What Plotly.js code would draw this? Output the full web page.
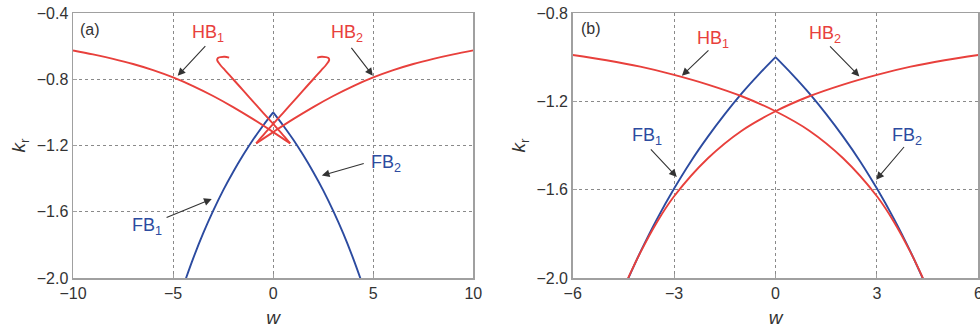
<!DOCTYPE html>
<html>
<head>
<meta charset="utf-8">
<script src="https://cdn.plot.ly/plotly-3.0.1.min.js"></script>
<style>html,body{margin:0;padding:0;background:#fff;}#chart{width:980px;height:329px;}</style>
</head>
<body>
<div id="chart"></div>
<script>
// ---------- Panel (a) data ----------
const fbA1W = [0, -0.5, -1, -1.5, -2, -2.5, -3, -3.5, -4, -4.4];
const fbA1K = [-1.0, -1.079, -1.164, -1.258, -1.36, -1.471, -1.595, -1.731, -1.883, -2.017];
const fbA2W = [0, 0.5, 1, 1.5, 2, 2.5, 3, 3.5, 4, 4.4];
const fbA2K = [-1.0, -1.079, -1.164, -1.258, -1.36, -1.471, -1.595, -1.731, -1.883, -2.017];

const hbA1MainW = [-10, -9, -8, -7, -6, -5, -4, -3, -2, -1, 0, 0.85];
const hbA1MainK = [-0.626, -0.650, -0.677, -0.708, -0.745, -0.789, -0.841, -0.901, -0.968, -1.041, -1.119, -1.187];
const hbA1HookW = [0.85, 0.4, 0, -0.5, -1, -1.5, -2, -2.4, -2.6, -2.74, -2.8, -2.76, -2.62, -2.42, -2.2];
const hbA1HookK = [-1.187, -1.124, -1.07, -1.003, -0.935, -0.867, -0.8, -0.746, -0.72, -0.698, -0.683, -0.672, -0.666, -0.664, -0.669];

const hbA2MainW = [10, 9, 8, 7, 6, 5, 4, 3, 2, 1, 0, -0.85];
const hbA2MainK = [-0.626, -0.650, -0.677, -0.708, -0.745, -0.789, -0.841, -0.901, -0.968, -1.041, -1.119, -1.187];
const hbA2HookW = [-0.85, -0.4, 0, 0.5, 1, 1.5, 2, 2.4, 2.6, 2.74, 2.8, 2.76, 2.62, 2.42, 2.2];
const hbA2HookK = [-1.187, -1.124, -1.07, -1.003, -0.935, -0.867, -0.8, -0.746, -0.72, -0.698, -0.683, -0.672, -0.666, -0.664, -0.669];

// ---------- Panel (b) data ----------
const fbB1W = [0, -0.5, -1, -1.5, -2, -2.5, -3, -3.5, -4, -4.4];
const fbB1K = [-1.0, -1.079, -1.164, -1.258, -1.36, -1.471, -1.595, -1.731, -1.883, -2.017];
const fbB2W = [0, 0.5, 1, 1.5, 2, 2.5, 3, 3.5, 4, 4.4];
const fbB2K = [-1.0, -1.079, -1.164, -1.258, -1.36, -1.471, -1.595, -1.731, -1.883, -2.017];

const hbB1W = [-6, -5, -4, -3, -2, -1, 0, 1, 2, 3, 3.5, 4, 4.38];
const hbB1K = [-0.99, -1.014, -1.043, -1.08, -1.124, -1.177, -1.245, -1.333, -1.458, -1.63, -1.745, -1.885, -2.007];
const hbB2W = [6, 5, 4, 3, 2, 1, 0, -1, -2, -3, -3.5, -4, -4.38];
const hbB2K = [-0.99, -1.014, -1.043, -1.08, -1.124, -1.177, -1.245, -1.333, -1.458, -1.63, -1.745, -1.885, -2.007];

// ---------- tick labels ----------
const xTicksA = [-10, -5, 0, 5, 10];
const yTicksA = [-2.0, -1.6, -1.2, -0.8, -0.4];
const xTicksB = [-6, -3, 0, 3, 6];
const yTicksB = [-2.0, -1.6, -1.2, -0.8];

const RED = '#e8403c';
const BLUE = '#2c4ba0';

function line(x, y, color, xa, ya) {
  return {x: x, y: y, type: 'scatter', mode: 'lines', xaxis: xa, yaxis: ya,
    line: {color: color, width: 1.9, shape: 'spline', smoothing: 1}, hoverinfo: 'skip', showlegend: false};
}

const data = [
  line(fbA1W, fbA1K, BLUE, 'x', 'y'),
  line(fbA2W, fbA2K, BLUE, 'x', 'y'),
  line(hbA1MainW, hbA1MainK, RED, 'x', 'y'),
  line(hbA1HookW, hbA1HookK, RED, 'x', 'y'),
  line(hbA2MainW, hbA2MainK, RED, 'x', 'y'),
  line(hbA2HookW, hbA2HookK, RED, 'x', 'y'),
  line(fbB1W, fbB1K, BLUE, 'x2', 'y2'),
  line(fbB2W, fbB2K, BLUE, 'x2', 'y2'),
  line(hbB1W, hbB1K, RED, 'x2', 'y2'),
  line(hbB2W, hbB2K, RED, 'x2', 'y2')
];

const FONT = 'Liberation Sans, Arial, Helvetica, sans-serif';
const tickFont = {family: FONT, size: 16, color: '#333'};

function xaxis(domain, range, ticks, anchor) {
  return {domain: domain, range: range, tickvals: ticks, anchor: anchor,
    showgrid: true, gridcolor: '#8a8a8a', griddash: 'dot', gridwidth: 1,
    zeroline: false, showline: true, linecolor: '#a0a0a0', linewidth: 1.5, mirror: true,
    ticks: 'inside', ticklen: 4, tickcolor: '#a0a0a0', tickfont: tickFont, ticklabeloverflow: 'allow',
    title: {text: '<i>w</i>', font: {family: FONT, size: 19, color: '#333'}, standoff: 10}, fixedrange: true};
}
function yaxis(range, ticks, anchor) {
  return {domain: [0, 1], range: range, tickvals: ticks, tickformat: '.1f', anchor: anchor,
    showgrid: true, gridcolor: '#8a8a8a', griddash: 'dot', gridwidth: 1,
    zeroline: false, showline: true, linecolor: '#a0a0a0', linewidth: 1.5, mirror: true,
    ticks: 'inside', ticklen: 4, tickcolor: '#a0a0a0', tickfont: tickFont, ticklabeloverflow: 'allow',
    title: {text: '<i>k</i><sub>r</sub>', font: {family: FONT, size: 19, color: '#333'}, standoff: 6}, fixedrange: true};
}

function arrow(xr, yr, hx, hy, tx, ty) {
  return {xref: xr, yref: yr, axref: xr, ayref: yr, x: hx, y: hy, ax: tx, ay: ty, text: '',
    showarrow: true, arrowhead: 2, arrowsize: 1.4, arrowwidth: 1.1, arrowcolor: '#333', standoff: 0, startstandoff: 0};
}
function label(xr, yr, x, y, text, color) {
  return {xref: xr, yref: yr, x: x, y: y, text: text, showarrow: false,
    xanchor: 'center', yanchor: 'middle', font: {family: FONT, size: 18, color: color}};
}

const annotations = [
  {xref: 'x', yref: 'y', x: -9.75, y: -0.5, text: '(a)', showarrow: false, xanchor: 'left', yanchor: 'middle', font: {family: FONT, size: 16, color: '#333'}},
  label('x', 'y', -3.25, -0.525, 'HB<sub>1</sub>', RED),
  arrow('x', 'y', -4.77, -0.779, -3.32, -0.591),
  label('x', 'y', 3.7, -0.525, 'HB<sub>2</sub>', RED),
  arrow('x', 'y', 4.98, -0.779, 3.85, -0.602),
  label('x', 'y', -6.32, -1.69, 'FB<sub>1</sub>', BLUE),
  arrow('x', 'y', -3.07, -1.523, -5.4, -1.638),
  label('x', 'y', 5.65, -1.306, 'FB<sub>2</sub>', BLUE),
  arrow('x', 'y', 2.43, -1.381, 4.6, -1.306),

  {xref: 'x2', yref: 'y2', x: -5.8, y: -0.872, text: '(b)', showarrow: false, xanchor: 'left', yanchor: 'middle', font: {family: FONT, size: 16, color: '#333'}},
  label('x2', 'y2', -1.84, -0.918, 'HB<sub>1</sub>', RED),
  arrow('x2', 'y2', -2.77, -1.084, -1.94, -0.963),
  label('x2', 'y2', 1.47, -0.898, 'HB<sub>2</sub>', RED),
  arrow('x2', 'y2', 2.48, -1.087, 1.57, -0.944),
  label('x2', 'y2', -3.81, -1.359, 'FB<sub>1</sub>', BLUE),
  arrow('x2', 'y2', -2.92, -1.543, -3.73, -1.411),
  label('x2', 'y2', 3.89, -1.359, 'FB<sub>2</sub>', BLUE),
  arrow('x2', 'y2', 2.98, -1.555, 3.84, -1.4)
];

const layout = {
  width: 980, height: 329,
  margin: {l: 0, r: 0, t: 13, b: 51, pad: 0},
  paper_bgcolor: '#fff', plot_bgcolor: '#fff',
  font: {family: FONT, color: '#333'},
  showlegend: false,
  xaxis: xaxis([0.0745, 0.4830], [-10, 10], xTicksA, 'y'),
  yaxis: yaxis([-2.0, -0.4], yTicksA, 'x'),
  xaxis2: xaxis([0.5844, 0.9983], [-6, 6], xTicksB, 'y2'),
  yaxis2: yaxis([-2.0, -0.8], yTicksB, 'x2'),
  annotations: annotations
};

Plotly.newPlot('chart', data, layout, {displayModeBar: false, staticPlot: true});
</script>
</body>
</html>
